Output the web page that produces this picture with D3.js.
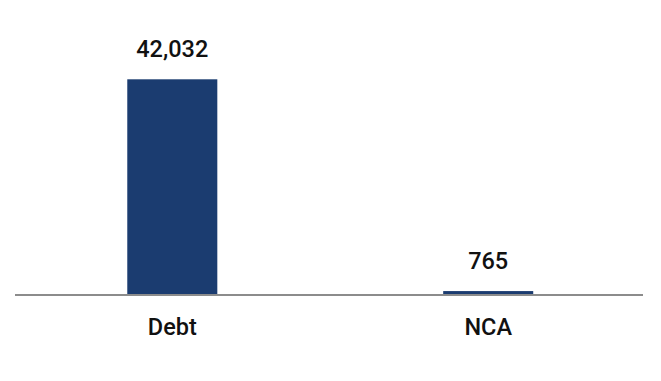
<!DOCTYPE html>
<html>
<head>
<meta charset="utf-8">
<script src="https://cdn.jsdelivr.net/npm/d3@7"></script>
<style>
  body { margin: 0; background: #fff; }
  text { font-family: Roboto, "Noto Sans", sans-serif; fill: #111; font-weight: 500; }
</style>
</head>
<body>
<svg id="chart" width="661" height="381"></svg>
<script>
var categories = ["Debt", "NCA"];
var values = [42032, 765];

var svg = d3.select("#chart"),
    width = 661,
    height = 381,
    baseline = 295;

var x = d3.scaleBand()
    .domain(categories)
    .range([14.5, 646])
    .paddingInner(0.715)
    .paddingOuter(0.357);

var y = d3.scaleLinear()
    .domain([0, d3.max(values)])
    .range([baseline, 79.3]);

var data = categories.map(function(c, i) { return {cat: c, val: values[i]}; });

svg.selectAll(".bar")
    .data(data)
    .enter().append("rect")
    .attr("class", "bar")
    .attr("x", function(d) { return x(d.cat); })
    .attr("width", x.bandwidth())
    .attr("y", function(d) { return y(d.val); })
    .attr("height", function(d) { return baseline - y(d.val); })
    .attr("fill", "#1b3c70");

// baseline
svg.append("line")
    .attr("x1", 15).attr("x2", 643)
    .attr("y1", baseline).attr("y2", baseline)
    .attr("stroke", "#8c8c8c")
    .attr("stroke-width", 2);

svg.selectAll(".val")
    .data(data)
    .enter().append("text")
    .attr("class", "val")
    .attr("x", function(d) { return x(d.cat) + x.bandwidth() / 2; })
    .attr("y", function(d) { return y(d.val) - 22; })
    .attr("text-anchor", "middle")
    .style("font-size", "23.5px")
    .text(function(d) { return d3.format(",")(d.val); });

svg.selectAll(".cat")
    .data(data)
    .enter().append("text")
    .attr("class", "cat")
    .attr("x", function(d) { return x(d.cat) + x.bandwidth() / 2; })
    .attr("y", 335)
    .attr("text-anchor", "middle")
    .style("font-size", "23.5px")
    .text(function(d) { return d.cat; });
</script>
</body>
</html>
